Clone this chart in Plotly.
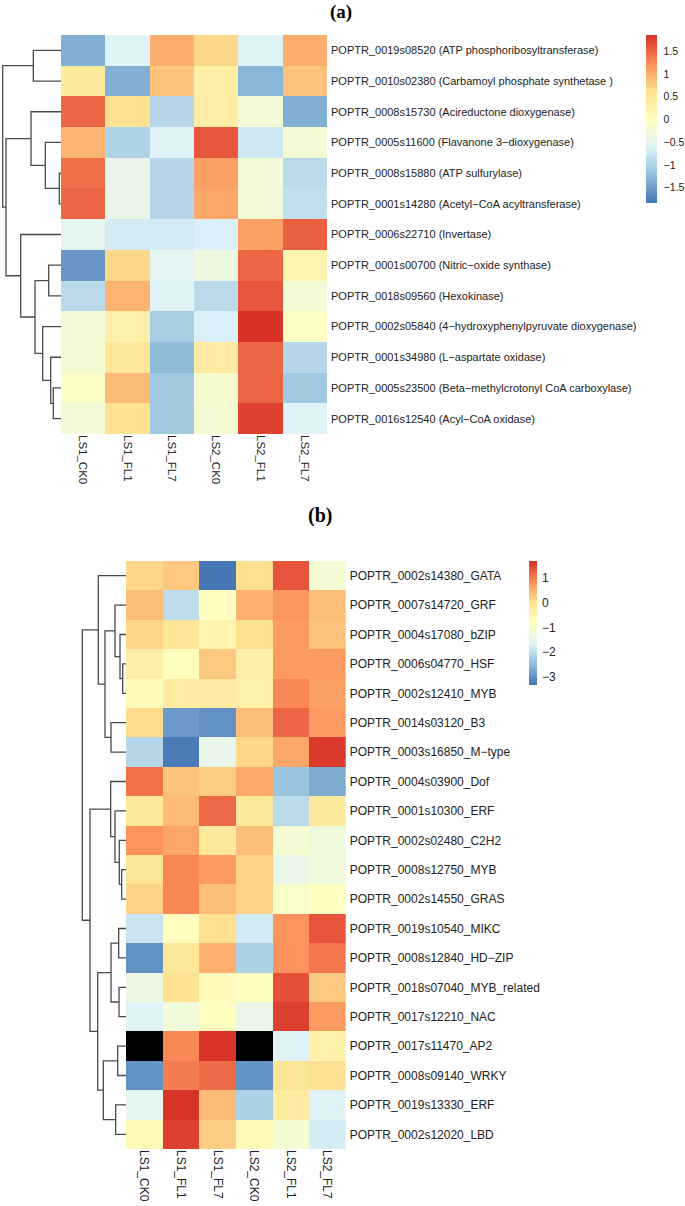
import plotly.graph_objects as go

W, H = 685, 1206
FONT = "Liberation Sans, Arial, sans-serif"

# ---------------- data ----------------
samples = ["LS1_CK0", "LS1_FL1", "LS1_FL7", "LS2_CK0", "LS2_FL1", "LS2_FL7"]

genes_a = [
    "POPTR_0019s08520 (ATP phosphoribosyltransferase)",
    "POPTR_0010s02380 (Carbamoyl phosphate synthetase )",
    "POPTR_0008s15730 (Acireductone dioxygenase)",
    "POPTR_0005s11600 (Flavanone 3\u2212dioxygenase)",
    "POPTR_0008s15880 (ATP sulfurylase)",
    "POPTR_0001s14280 (Acetyl\u2212CoA acyltransferase)",
    "POPTR_0006s22710 (Invertase)",
    "POPTR_0001s00700 (Nitric\u2212oxide synthase)",
    "POPTR_0018s09560 (Hexokinase)",
    "POPTR_0002s05840 (4\u2212hydroxyphenylpyruvate dioxygenase)",
    "POPTR_0001s34980 (L\u2212aspartate oxidase)",
    "POPTR_0005s23500 (Beta\u2212methylcrotonyl CoA carboxylase)",
    "POPTR_0016s12540 (Acyl\u2212CoA oxidase)",
]
a_LS1_CK0 = [-1.35, 0.45, 1.5, 0.95, 1.45, 1.5, -0.5, -1.55, -0.9, -0.25, -0.2, -0.05, -0.25]
a_LS1_FL1 = [-0.62, -1.35, 0.6, -1.0, -0.45, -0.45, -0.7, 0.7, 0.95, 0.3, 0.5, 0.9, 0.6]
a_LS1_FL7 = [1.0, 0.85, -0.95, -0.62, -0.95, -0.95, -0.7, -0.55, -0.6, -1.05, -1.25, -1.1, -1.1]
a_LS2_CK0 = [0.7, 0.35, 0.35, 1.6, 1.1, 1.05, -0.65, -0.35, -0.9, -0.65, 0.4, -0.15, -0.2]
a_LS2_FL1 = [-0.62, -1.3, -0.25, -0.75, -0.25, -0.25, 1.1, 1.5, 1.6, 1.85, 1.5, 1.5, 1.75]
a_LS2_FL7 = [1.0, 0.85, -1.35, -0.2, -0.9, -0.85, 1.55, 0.2, -0.25, -0.05, -0.95, -1.1, -0.6]
# row dendrogram (a): merge i joins a_left[i] and a_right[i] at a_height[i];
# ids >= 13 refer to earlier merges
a_left = [4, 3, 2, 0, 11, 10, 9, 7, 20, 6, 15, 16]
a_right = [5, 13, 14, 1, 12, 17, 18, 8, 19, 21, 22, 23]
a_height = [1.7, 15.7, 30, 27.7, 7.7, 10.3, 18.3, 12.3, 26, 40.3, 55, 58.3]
a_ticks = [-1.5, -1, -0.5, 0, 0.5, 1, 1.5]
a_zrange = [-1.84, 1.86]

genes_b = [
    "POPTR_0002s14380_GATA", "POPTR_0007s14720_GRF", "POPTR_0004s17080_bZIP",
    "POPTR_0006s04770_HSF", "POPTR_0002s12410_MYB", "POPTR_0014s03120_B3",
    "POPTR_0003s16850_M\u2212type", "POPTR_0004s03900_Dof", "POPTR_0001s10300_ERF",
    "POPTR_0002s02480_C2H2", "POPTR_0008s12750_MYB", "POPTR_0002s14550_GRAS",
    "POPTR_0019s10540_MIKC", "POPTR_0008s12840_HD\u2212ZIP", "POPTR_0018s07040_MYB_related",
    "POPTR_0017s12210_NAC", "POPTR_0017s11470_AP2", "POPTR_0008s09140_WRKY",
    "POPTR_0019s13330_ERF", "POPTR_0002s12020_LBD",
]
b_LS1_CK0 = [0.1, 0.35, 0.1, -0.4, -0.7, 0.05, -2.1, 1.1, -0.2, 0.8, -0.1, 0.15, -1.9, -3.0, -1.35, -1.65, None, -3.0, -1.5, -0.65]
b_LS1_FL1 = [0.25, -2.0, -0.15, -0.8, -0.3, -2.9, -3.25, 0.3, 0.4, 0.6, 0.9, 0.9, -0.8, -0.2, 0.0, -1.2, 0.9, 1.0, 1.65, 1.55]
b_LS1_FL7 = [-3.3, -0.8, -0.5, 0.25, -0.3, -3.0, -1.45, 0.2, 1.15, -0.2, 0.7, 0.35, 0.0, 0.5, -0.75, -0.8, 1.65, 1.15, 0.4, 0.2]
b_LS2_CK0 = [0.0, 0.5, 0.0, -0.4, -0.45, 0.35, 0.1, 0.55, -0.2, 0.35, 0.15, 0.15, -1.8, -2.2, -0.8, -1.4, None, -3.0, -2.2, -0.65]
b_LS2_FL1 = [1.35, 0.75, 0.7, 0.7, 0.9, 1.2, 0.6, -2.4, -2.05, -1.1, -1.4, -0.95, 0.8, 0.8, 1.4, 1.55, -1.65, -0.1, -0.3, -1.1]
b_LS2_FL7 = [-1.1, 0.35, 0.3, 0.7, 0.65, 0.7, 1.6, -2.7, -0.2, -1.25, -1.25, -0.85, 1.35, 1.05, 0.25, 0.7, -0.45, -0.05, -1.65, -1.75]
b_left = [3, 2, 1, 5, 22, 0, 10, 9, 8, 7, 12, 14, 30, 16, 18, 33, 32, 29, 25]
b_right = [4, 20, 21, 6, 23, 24, 11, 26, 27, 28, 13, 15, 31, 17, 19, 34, 35, 36, 37]
b_height = [3.3, 6, 11, 15, 21, 27.7, 4.3, 6.7, 11, 15.3, 7.3, 7, 15, 8.3, 10.3, 22.7, 28.3, 36, 43.7]
b_ticks = [-3, -2, -1, 0, 1]
b_zrange = [-3.32, 1.68]

# pheatmap default palette: rev(brewer.pal(7, "RdYlBu"))
palette = ["#4575B4", "#91BFDB", "#E0F3F8", "#FFFFBF", "#FEE090", "#FC8D59", "#D73027"]
colorscale = [[i / (len(palette) - 1), c] for i, c in enumerate(palette)]


def matrix(cols):
    return [list(r) for r in zip(*cols)]


def dendro(left, right, height, n):
    pos = {i: float(i) for i in range(n)}
    hgt = {i: 0.0 for i in range(n)}
    xs, ys = [], []
    for k, (l, r, h) in enumerate(zip(left, right, height)):
        yl, yr = pos[l], pos[r]
        xs += [hgt[l], h, h, hgt[r], None]
        ys += [yl, yl, yr, yr, None]
        pos[n + k] = (yl + yr) / 2
        hgt[n + k] = h
    return xs, ys


fig = go.Figure()


def panel(idx, genes, cols, left, right, height, ticks, zrange,
          hx0, hx1, hy0, hy1, cb_x, cb_thick, cb_len, row_font, col_font, cb_font, cb_ticklen):
    n = len(genes)
    z = matrix(cols)
    xa = "x" if idx == 1 else f"x{idx}"
    ya = "y" if idx == 1 else f"y{idx}"
    dx = f"x{idx + 1}"
    dy = f"y{idx + 1}"
    # NA cells shown black
    na = [[1 if v is None else None for v in row] for row in z]
    if any(v is not None for row in na for v in row):
        fig.add_trace(go.Heatmap(z=na, x=samples, y=list(range(n)), xaxis=xa, yaxis=ya,
                                 colorscale=[[0, "black"], [1, "black"]], showscale=False,
                                 hoverinfo="skip"))
    fig.add_trace(go.Heatmap(
        z=z, x=samples, y=list(range(n)), xaxis=xa, yaxis=ya,
        colorscale=colorscale, zmin=zrange[0], zmax=zrange[1],
        colorbar=dict(thickness=cb_thick, thicknessmode="pixels", len=cb_len, lenmode="pixels",
                      x=cb_x / W, xanchor="left", y=1 - hy0 / H, yanchor="top",
                      xpad=0, ypad=0, outlinewidth=0, tickvals=ticks,
                      ticks="outside", ticklen=cb_ticklen, tickcolor="rgba(0,0,0,0)",
                      tickfont=dict(family=FONT, size=cb_font, color="#222")),
    ))
    xs, ys = dendro(left, right, height, n)
    hmax = max(height) * 1.03
    fig.add_trace(go.Scatter(x=xs, y=ys, mode="lines", xaxis=dx, yaxis=dy,
                             line=dict(color="#4a4a4a", width=1.3), hoverinfo="skip",
                             showlegend=False))
    ydom = [1 - hy1 / H, 1 - hy0 / H]
    key = "" if idx == 1 else str(idx)
    fig.update_layout(**{
        f"xaxis{key}": dict(domain=[hx0 / W, hx1 / W], anchor=ya, tickangle=90,
                            showgrid=False, zeroline=False, showline=False, ticks="",
                            automargin=False,
                            tickfont=dict(family=FONT, size=col_font, color="#222"),
                            fixedrange=True),
        f"yaxis{key}": dict(domain=ydom, anchor=xa, side="right", range=[n - 0.5, -0.5],
                            tickvals=list(range(n)), ticktext=genes, showgrid=False,
                            zeroline=False, showline=False, ticks="", automargin=False,
                            ticklabelstandoff=3,
                            tickfont=dict(family=FONT, size=row_font, color="#222")),
        f"xaxis{idx + 1}": dict(domain=[(hx0 - hmax) / W, hx0 / W], anchor=dy,
                                range=[hmax, 0], visible=False, automargin=False),
        f"yaxis{idx + 1}": dict(domain=ydom, anchor=dx, range=[n - 0.5, -0.5], visible=False,
                                automargin=False),
    })


panel(1, genes_a, [a_LS1_CK0, a_LS1_FL1, a_LS1_FL7, a_LS2_CK0, a_LS2_FL1, a_LS2_FL7],
      a_left, a_right, a_height, a_ticks, a_zrange,
      61, 327, 35, 434, 646, 11, 168, 11, 11.5, 10.5, 5)
panel(3, genes_b, [b_LS1_CK0, b_LS1_FL1, b_LS1_FL7, b_LS2_CK0, b_LS2_FL1, b_LS2_FL7],
      b_left, b_right, b_height, b_ticks, b_zrange,
      126, 345.7, 561, 1149, 529, 8, 124, 12, 12, 12, 3)

fig.add_annotation(text="<b>(a)</b>", x=341 / W, y=1 - 12 / H, xref="paper", yref="paper",
                   showarrow=False, xanchor="center", yanchor="middle",
                   font=dict(family="Liberation Serif, Times New Roman, serif", size=19, color="black"))
fig.add_annotation(text="<b>(b)</b>", x=320 / W, y=1 - 515 / H, xref="paper", yref="paper",
                   showarrow=False, xanchor="center", yanchor="middle",
                   font=dict(family="Liberation Serif, Times New Roman, serif", size=20, color="black"))

fig.update_layout(width=W, height=H, margin=dict(l=0, r=0, t=0, b=0, autoexpand=False),
                  paper_bgcolor="white", plot_bgcolor="white", showlegend=False)

fig.write_html("out.html", config={"displayModeBar": False},
               post_script="document.body.style.margin='0';document.body.style.overflow='hidden';")
